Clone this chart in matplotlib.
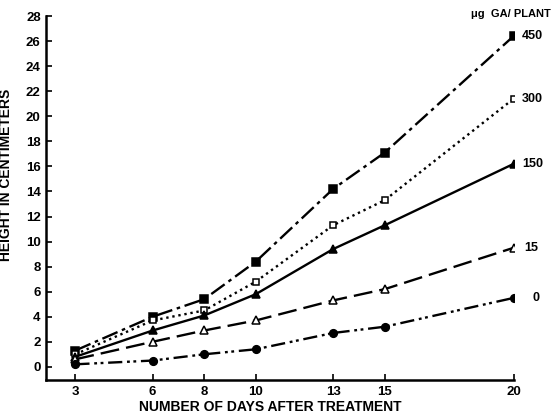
import numpy as np
import matplotlib
matplotlib.use('Agg')
import matplotlib.pyplot as plt

plt.rcParams['font.family'] = ['Liberation Sans', 'DejaVu Sans']
plt.rcParams['font.weight'] = 'bold'

# days after treatment
days = [3, 6, 8, 10, 13, 15, 20]

# plant height (cm) for each GA dose
h_450 = [1.3, 4.0, 5.4, 8.4, 14.2, 17.1, 26.4]
h_300 = [1.0, 3.7, 4.5, 6.8, 11.3, 13.3, 21.4]
h_150 = [0.8, 2.9, 4.1, 5.8, 9.4, 11.3, 16.2]
h_15 = [0.6, 2.0, 2.9, 3.7, 5.3, 6.2, 9.5]
h_0 = [0.2, 0.5, 1.0, 1.4, 2.7, 3.2, 5.5]

dose_labels = ['450', '300', '150', '15', '0']
yticks = list(range(0, 29, 2))

fig = plt.figure(figsize=(5.57, 4.13), dpi=100)
ax = fig.add_axes([0.083, 0.080, 0.839, 0.881])

series = [h_450, h_300, h_150, h_15, h_0]
styles = [
    dict(ls=(0, (7, 2, 1.5, 2)), marker='s', mfc='k', ms=5.5),
    dict(ls=(0, (1, 1.6)), marker='s', mfc='white', ms=5),
    dict(ls='-', marker='^', mfc='k', ms=6),
    dict(ls=(0, (8, 3)), marker='^', mfc='white', ms=6),
    dict(ls=(0, (6, 2, 1.2, 1.5, 1.2, 2)), marker='o', mfc='k', ms=5.5),
]
for vals, st in zip(series, styles):
    ax.plot(days, vals, color='k', lw=1.7, linestyle=st['ls'], marker=st['marker'],
            mfc=st['mfc'], mec='k', mew=1.1, ms=st['ms'])

# dose labels at the right end of each line
label_x = [20.3, 20.3, 20.35, 20.4, 20.75]
for vals, lab, lx in zip(series, dose_labels, label_x):
    ax.text(lx, vals[-1], lab, fontsize=9, fontweight='bold', va='center', ha='left',
            clip_on=False)
ax.text(18.35, 28.2, '\u03bcg  GA/ PLANT', fontsize=8, fontweight='bold', va='center',
        ha='left', clip_on=False)

ax.set_xlim(1.87, 20)
ax.set_ylim(-1.05, 28)
ax.set_xticks(days)
ax.set_yticks(yticks)
ax.tick_params(direction='in', length=4, width=1.2, labelsize=9.5, pad=4)
for lab in ax.get_xticklabels() + ax.get_yticklabels():
    lab.set_fontweight('bold')

ax.spines['top'].set_visible(False)
ax.spines['right'].set_visible(False)
ax.spines['left'].set_linewidth(1.8)
ax.spines['bottom'].set_linewidth(1.8)

ax.set_xlabel('NUMBER OF DAYS AFTER TREATMENT', fontsize=10, fontweight='bold')
ax.set_ylabel('HEIGHT IN CENTIMETERS', fontsize=10, fontweight='bold')
ax.xaxis.set_label_coords(0.48, -0.055)
ax.yaxis.set_label_coords(-0.072, 0.563)

fig.savefig('out.png', dpi=100)
